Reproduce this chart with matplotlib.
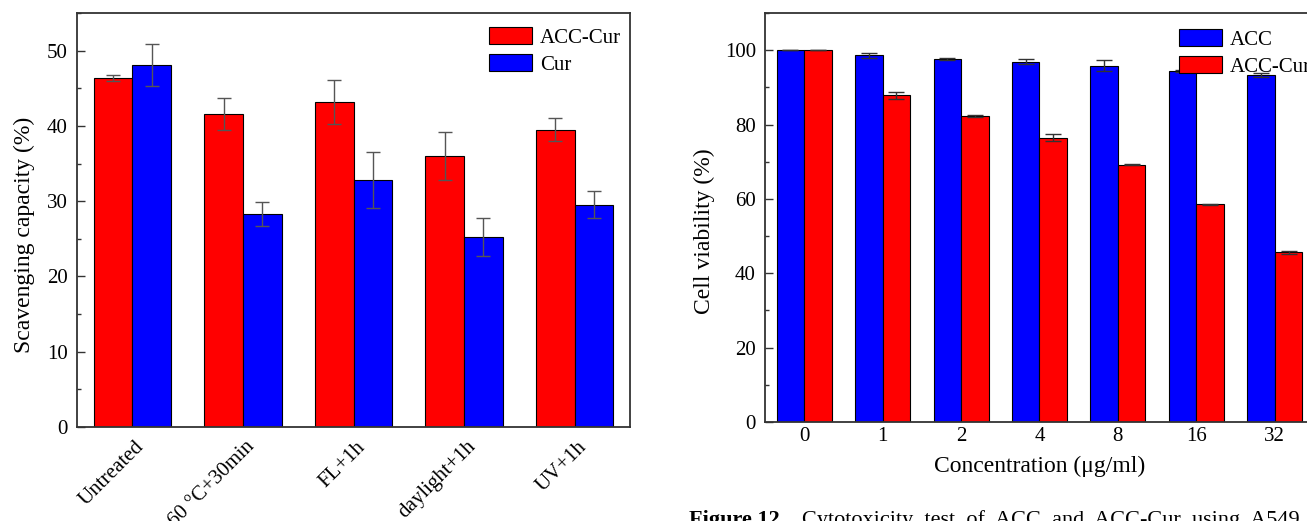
import matplotlib
matplotlib.use("Agg")
import matplotlib.pyplot as plt
import matplotlib.transforms as mtransforms
from matplotlib.ticker import MultipleLocator
import numpy as np

plt.rcParams['font.family'] = ['Liberation Serif', 'DejaVu Serif']
plt.rcParams['mathtext.fontset'] = 'stix'

# ---- Left panel data ----
treatments = ["Untreated", "60 \u00b0C+30min", "FL+1h", "daylight+1h", "UV+1h"]
acc_cur_scav = [46.3, 41.6, 43.2, 36.0, 39.5]
acc_cur_scav_err = [0.4, 2.1, 2.9, 3.2, 1.5]
cur_scav = [48.1, 28.3, 32.8, 25.2, 29.5]
cur_scav_err = [2.8, 1.6, 3.75, 2.5, 1.8]

# ---- Right panel data ----
concentrations = ["0", "1", "2", "4", "8", "16", "32"]
acc_viab = [100.0, 98.65, 97.6, 96.9, 95.8, 94.5, 93.3]
acc_viab_err = [0.0, 0.7, 0.3, 0.6, 1.5, 0.3, 0.5]
acccur_viab = [100.0, 87.9, 82.4, 76.5, 69.2, 58.5, 45.6]
acccur_viab_err = [0.0, 0.9, 0.3, 0.9, 0.15, 0.2, 0.4]

W, H = 1307, 521
fig = plt.figure(figsize=(W / 100, H / 100), dpi=100)

RED = '#ff0000'
BLUE = '#0000ff'
SPINE = '#333333'
FS_TICK = 15
FS_LEG = 15
FS_LAB = 17

def px_axes(l, t, r, b):
    return fig.add_axes([l / W, 1 - b / H, (r - l) / W, (b - t) / H])

def style(ax, xpad):
    for s in ax.spines.values():
        s.set_linewidth(1.3)
        s.set_color(SPINE)
    ax.tick_params(axis='y', which='major', direction='in', length=6, width=1,
                   color=SPINE, labelsize=FS_TICK, pad=6.5)
    ax.tick_params(axis='y', which='minor', direction='in', length=3, width=1,
                   color=SPINE)
    ax.tick_params(axis='x', which='both', length=0, labelsize=FS_TICK, pad=xpad)

bw = 0.35
# ---- Left axes ----
ax1 = px_axes(77, 13, 630, 427)
x = np.arange(len(treatments))
ekw = dict(ecolor='#555555', elinewidth=1, capthick=1)
ax1.bar(x - bw / 2, acc_cur_scav, bw, yerr=acc_cur_scav_err, color=RED,
        edgecolor='black', linewidth=0.8, capsize=5, error_kw=ekw, label='ACC-Cur')
ax1.bar(x + bw / 2, cur_scav, bw, yerr=cur_scav_err, color=BLUE,
        edgecolor='black', linewidth=0.8, capsize=5, error_kw=ekw, label='Cur')
ax1.set_xlim(-0.5, len(treatments) - 0.5)
ax1.set_ylim(0, 55)
ax1.yaxis.set_major_locator(MultipleLocator(10))
ax1.yaxis.set_minor_locator(MultipleLocator(5))
ax1.set_xticks(x)
ax1.set_xticklabels(treatments, rotation=45, ha='right', va='top',
                    rotation_mode='anchor')
style(ax1, xpad=6)
off = mtransforms.ScaledTranslation(2 / 100, -2 / 100, fig.dpi_scale_trans)
for lab in ax1.get_xticklabels():
    lab.set_transform(lab.get_transform() + off)
ax1.set_ylabel("Scavenging capacity (%)", fontsize=FS_LAB, labelpad=9)
ax1.yaxis.label.set_y(0.5 - 15 / 414)
ax1.legend(loc='upper left', bbox_to_anchor=(489 / W, 1 - 27 / H),
           bbox_transform=fig.transFigure, frameon=False, fontsize=FS_LEG,
           handlelength=2.05, handleheight=0.85, borderpad=0, borderaxespad=0,
           handletextpad=0.4, labelspacing=0.33)

# ---- Right axes ----
ax2 = px_axes(765, 13, 1314, 422)
x2 = np.arange(len(concentrations))
ekw2 = dict(ecolor='#333333', elinewidth=1, capthick=1)
ax2.bar(x2 - bw / 2, acc_viab, bw, yerr=acc_viab_err, color=BLUE,
        edgecolor='black', linewidth=0.8, capsize=6, error_kw=ekw2, label='ACC')
ax2.bar(x2 + bw / 2, acccur_viab, bw, yerr=acccur_viab_err, color=RED,
        edgecolor='black', linewidth=0.8, capsize=6, error_kw=ekw2, label='ACC-Cur')
ax2.set_xlim(-0.5, len(concentrations) - 0.5)
ax2.set_ylim(0, 110)
ax2.yaxis.set_major_locator(MultipleLocator(20))
ax2.yaxis.set_minor_locator(MultipleLocator(10))
ax2.set_xticks(x2)
ax2.set_xticklabels(concentrations)
style(ax2, xpad=3.5)
ax2.set_ylabel("Cell viability (%)", fontsize=FS_LAB, labelpad=7)
ax2.yaxis.label.set_y(0.5 - 14 / 409)
ax2.set_xlabel("Concentration (\u03bcg/ml)", fontsize=FS_LAB, labelpad=7.5)
ax2.legend(loc='upper left', bbox_to_anchor=(1179 / W, 1 - 29 / H),
           bbox_transform=fig.transFigure, frameon=False, fontsize=FS_LEG,
           handlelength=2.05, handleheight=0.85, borderpad=0, borderaxespad=0,
           handletextpad=0.4, labelspacing=0.33)

# ---- Caption (cut off by the page edge, as in the reference) ----
fig.text(689 / W, 1 - 510 / H, "Figure 12.", fontsize=16, fontweight='bold',
         ha='left', va='top')
fig.text(802 / W, 1 - 510 / H, "Cytotoxicity  test  of  ACC  and  ACC-Cur  using  A549",
         fontsize=16, ha='left', va='top')

fig.savefig("out.png", dpi=100)
